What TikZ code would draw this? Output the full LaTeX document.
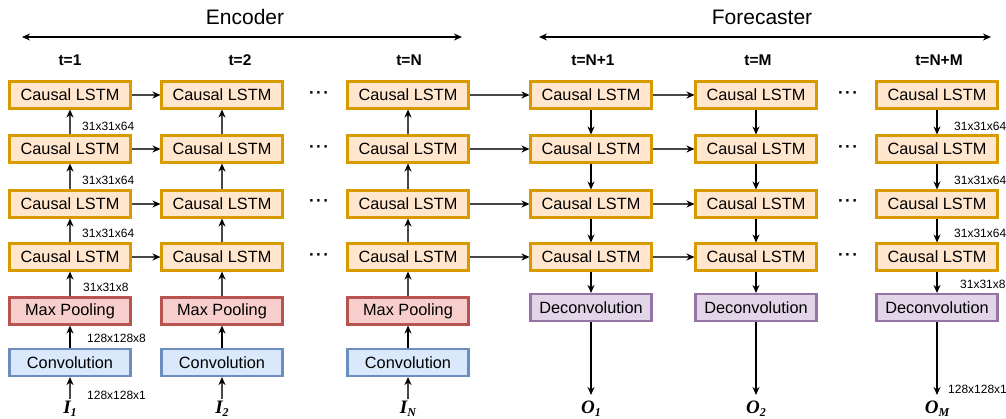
\documentclass[tikz,border=0pt]{standalone}
\usepackage{fontspec}
\setmainfont{Liberation Sans}
\newfontfamily\tnr{Liberation Serif}
\usetikzlibrary{arrows.meta}
\definecolor{lstmD}{HTML}{D79B00}
\definecolor{lstmF}{HTML}{FFE6CC}
\definecolor{poolD}{HTML}{B85450}
\definecolor{poolF}{HTML}{F8CECC}
\definecolor{convD}{HTML}{6C8EBF}
\definecolor{convF}{HTML}{DAE8FC}
\definecolor{deconvD}{HTML}{9673A6}
\definecolor{deconvF}{HTML}{E1D5E7}
\tikzset{
  lstm/.style={draw=lstmD, fill=lstmF, line width=2.1pt, minimum width=121pt, minimum height=27pt, inner sep=0pt, font=\fontsize{16.3}{18}\selectfont},
  pool/.style={lstm, draw=poolD, fill=poolF},
  conv/.style={lstm, draw=convD, fill=convF},
  deconv/.style={lstm, draw=deconvD, fill=deconvF},
  arr/.style={draw=black!72, line width=1.2pt, -{Stealth[black,length=8pt,width=7pt]}},
  dim/.style={font=\fontsize{12}{13}\selectfont, anchor=west, inner sep=0pt},
  tlab/.style={font=\bfseries\fontsize{15.5}{18}\selectfont},
  io/.style={font=\tnr\bfseries\itshape\fontsize{19}{20}\selectfont, inner sep=0pt},
  dots/.style={font=\bfseries\fontsize{17}{20}\selectfont, inner sep=0pt},
  head/.style={font=\fontsize{21}{24}\selectfont},
  big/.style={draw=black, line width=1.2pt, {Stealth[length=8pt,width=7pt]}-{Stealth[length=8pt,width=7pt]}}
}
\newcommand{\sub}[1]{\raisebox{-0.35ex}{\fontsize{12}{12}\selectfont #1}}
\begin{document}
\begin{tikzpicture}[x=1pt,y=-1pt]
\useasboundingbox (0,0) rectangle (1006,419);
% headings
\node[head] (enc) at (245,17) {Encoder};
\node[head] (fore) at (762,17) {Forecaster};
\coordinate (eL) at (22,37); \coordinate (eR) at (462,37);
\coordinate (fL) at (539,37); \coordinate (fR) at (991,37);
\draw[big] (eL) -- (eR);
\draw[big] (fL) -- (fR);
% time labels
\node[tlab] (t1) at (70,60) {t=1};
\node[tlab] (t2) at (240,60) {t=2};
\node[tlab] (tN) at (409,60) {t=N};
\node[tlab] (tN1) at (593,60) {t=N+1};
\node[tlab] (tM) at (758,60) {t=M};
\node[tlab] (tNM) at (939,60) {t=N+M};
% LSTM grid
\foreach \n/\x in {a/70,b/222,c/408,d/591,e/756,f/937}{
  \foreach \r/\y in {1/95,2/149,3/204,4/257}{
    \node[lstm] (\n\r) at (\x,\y) {Causal LSTM};
  }
}
% dots
\foreach \r/\y in {1/95,2/149,3/203,4/257}{
  \node[dots] (da\r) at (319,\y) {·\kern1.5pt·\kern1.5pt·};
  \node[dots] (db\r) at (848,\y) {·\kern1.5pt·\kern1.5pt·};
}
% encoder bottom
\foreach \n/\x/\s in {a/70/1,b/222/2,c/408/N}{
  \node[pool] (p\n) at (\x,311) {Max Pooling};
  \node[conv] (cv\n) at (\x,362.5) {Convolution};
  \node[io] (in\n) at (\x,409) {I\sub{\s}};
  \draw[arr] (in\n.north) ++(0,-2) -- (cv\n.south);
  \draw[arr, draw=black, line width=1.5pt] (cv\n) -- (p\n);
  \draw[arr] (p\n) -- (\n4);
  \draw[arr] (\n4) -- (\n3);
  \draw[arr] (\n3) -- (\n2);
  \draw[arr] (\n2) -- (\n1);
}
% forecaster bottom
\foreach \n/\x/\s in {d/591/1,e/756/2,f/937/M}{
  \node[deconv] (dc\n) at (\x,307.5) {Deconvolution};
  \node[io] (out\n) at (\x,409) {O\sub{\s}};
  \draw[arr, draw=black] (\n1) -- (\n2);
  \draw[arr, draw=black] (\n2) -- (\n3);
  \draw[arr, draw=black] (\n3) -- (\n4);
  \draw[arr, draw=black] (\n4) -- (dc\n);
  \draw[arr, draw=black] (dc\n) -- ([yshift=6pt]out\n.north);
}
% horizontal arrows
\foreach \r in {1,2,3,4}{
  \draw[arr] (a\r) -- (b\r);
  \draw[arr] (c\r) -- (d\r);
  \draw[arr] (d\r) -- (e\r);
}
% dimension labels
\node[dim] (l1) at (82,126) {31x31x64};
\node[dim] (l2) at (82,180) {31x31x64};
\node[dim] (l3) at (82,233) {31x31x64};
\node[dim] (l4) at (83,287) {31x31x8};
\node[dim] (l5) at (87,338) {128x128x8};
\node[dim] (l6) at (87,395) {128x128x1};
\node[dim] (r1) at (954,126) {31x31x64};
\node[dim] (r2) at (954,180) {31x31x64};
\node[dim] (r3) at (954,233) {31x31x64};
\node[dim] (r4) at (960,284) {31x31x8};
\node[dim] (r5) at (948,389) {128x128x1};
\end{tikzpicture}
\end{document}
